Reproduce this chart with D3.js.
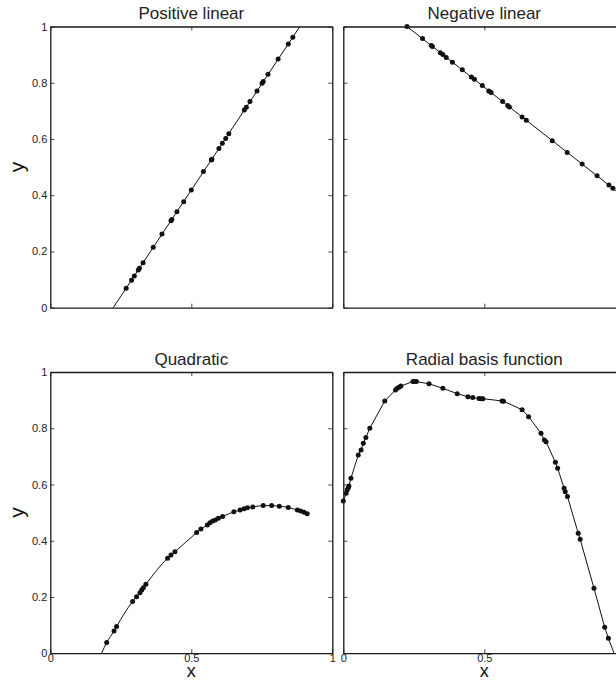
<!DOCTYPE html>
<html>
<head>
<meta charset="utf-8">
<script src="https://cdn.jsdelivr.net/npm/d3@7"></script>
<style>
  html, body { margin: 0; padding: 0; background: #fff; }
  svg { display: block; font-family: "Liberation Sans", Arial, Helvetica, sans-serif; }
</style>
</head>
<body>
<svg id="chart" width="616" height="681"></svg>
<script>
// ---------- DATA ----------
const titles = ["Positive linear", "Negative linear", "Quadratic", "Radial basis function"];
const xTicks = [0, 0.5, 1];
const yTicks = [0, 0.2, 0.4, 0.6, 0.8, 1];
const xTickLabels = ["0", "0.5", "1"];
const yTickLabels = ["0", "0.2", "0.4", "0.6", "0.8", "1"];

// Positive linear
const posX = [0.860,0.844,0.808,0.772,0.755,0.751,0.733,0.708,0.695,0.688,0.633,0.622,0.610,0.598,0.573,0.571,0.543,0.500,0.473,0.449,0.431,0.428,0.396,0.365,0.329,0.316,0.312,0.298,0.288,0.269];
const posY = [0.962,0.938,0.884,0.830,0.804,0.798,0.771,0.733,0.713,0.703,0.619,0.602,0.585,0.566,0.528,0.525,0.484,0.419,0.377,0.341,0.314,0.309,0.262,0.215,0.160,0.140,0.134,0.113,0.098,0.069];
const posLineX = [0.223, 0.885];
const posLineY = [0, 1];

// Negative linear
const negX = [0.226,0.281,0.312,0.316,0.344,0.353,0.365,0.387,0.422,0.454,0.465,0.493,0.516,0.524,0.565,0.583,0.589,0.634,0.649,0.741,0.794,0.847,0.900,0.942,0.956];
const negY = [1.000,0.957,0.932,0.929,0.907,0.900,0.890,0.873,0.846,0.820,0.812,0.790,0.771,0.765,0.733,0.719,0.714,0.678,0.667,0.594,0.552,0.511,0.469,0.436,0.425];
const negLineX = [0.226, 1];
const negLineY = [1, 0.390];

// Quadratic
const quadX = [0.200,0.226,0.235,0.292,0.306,0.318,0.324,0.330,0.339,0.416,0.428,0.442,0.519,0.534,0.557,0.566,0.576,0.585,0.596,0.611,0.651,0.673,0.687,0.699,0.718,0.755,0.785,0.812,0.844,0.876,0.888,0.900,0.911];
const quadY = [0.038,0.079,0.095,0.184,0.201,0.215,0.225,0.233,0.245,0.338,0.349,0.361,0.429,0.442,0.456,0.464,0.470,0.474,0.480,0.486,0.503,0.509,0.514,0.517,0.520,0.525,0.525,0.523,0.518,0.509,0.506,0.501,0.496];
const quadLineX = [0.182].concat(quadX);
const quadLineY = [0].concat(quadY);

// Radial basis function
const rbfX = [0.000,0.010,0.014,0.018,0.020,0.027,0.053,0.063,0.071,0.080,0.094,0.147,0.185,0.191,0.198,0.204,0.247,0.253,0.259,0.304,0.353,0.404,0.442,0.459,0.481,0.489,0.495,0.563,0.568,0.634,0.657,0.701,0.713,0.719,0.752,0.760,0.783,0.787,0.795,0.833,0.840,0.889,0.927,0.940];
const rbfY = [0.541,0.569,0.581,0.589,0.595,0.622,0.705,0.723,0.747,0.767,0.800,0.897,0.936,0.942,0.946,0.950,0.966,0.966,0.966,0.958,0.942,0.923,0.912,0.909,0.906,0.905,0.905,0.897,0.896,0.866,0.841,0.782,0.758,0.752,0.679,0.658,0.587,0.574,0.557,0.427,0.405,0.231,0.092,0.053];
const rbfLineX = rbfX.concat([0.960]);
const rbfLineY = rbfY.concat([0]);

// ---------- LAYOUT ----------
const W = 616;
const svg = d3.select("#chart");
const panelW = 282, panelH = 281.2;
const panels = [
  { left: 50.3,  top: 26.5, title: titles[0], px: posX,  py: posY,  lx: posLineX,  ly: posLineY,  yLab: true,  xLab: false, curve: d3.curveLinear },
  { left: 343.3, top: 26.5, title: titles[1], px: negX,  py: negY,  lx: negLineX,  ly: negLineY,  yLab: false, xLab: false, curve: d3.curveLinear },
  { left: 50.3,  top: 372,  title: titles[2], px: quadX, py: quadY, lx: quadLineX, ly: quadLineY, yLab: true,  xLab: true,  curve: d3.curveMonotoneX },
  { left: 343.3, top: 372,  title: titles[3], px: rbfX,  py: rbfY,  lx: rbfLineX,  ly: rbfLineY,  yLab: false, xLab: true,  curve: d3.curveLinear }
];

const axisColor = "#1a1a1a";
const tickLen = 4;

panels.forEach((p, i) => {
  const x = d3.scaleLinear().domain([0, 1]).range([p.left, p.left + panelW]);
  const y = d3.scaleLinear().domain([0, 1]).range([p.top + panelH, p.top]);
  const g = svg.append("g");

  const clipId = "clip" + i;
  svg.append("clipPath").attr("id", clipId)
    .append("rect").attr("x", p.left).attr("y", p.top).attr("width", panelW).attr("height", panelH);

  // data line
  const lineData = p.lx.map((v, k) => [v, p.ly[k]]);
  g.append("path")
    .attr("clip-path", `url(#${clipId})`)
    .attr("d", d3.line().x(d => x(d[0])).y(d => y(d[1])).curve(p.curve)(lineData))
    .attr("fill", "none").attr("stroke", "#111").attr("stroke-width", 1);

  // dots
  g.append("g").selectAll("circle")
    .data(p.px.map((v, k) => [v, p.py[k]]))
    .join("circle")
    .attr("cx", d => x(d[0])).attr("cy", d => y(d[1]))
    .attr("r", 2.5).attr("fill", "#111");

  // axes (inward ticks, all four sides)
  const bottom = d3.axisBottom(x).tickValues(xTicks).tickSizeInner(-tickLen).tickSizeOuter(0)
    .tickFormat((d, k) => (p.xLab && x(d) < W - 4) ? xTickLabels[k] : "");
  const top = d3.axisTop(x).tickValues(xTicks).tickSizeInner(-tickLen).tickSizeOuter(0).tickFormat("");
  const left = d3.axisLeft(y).tickValues(yTicks).tickSizeInner(-tickLen).tickSizeOuter(0)
    .tickFormat((d, k) => p.yLab ? yTickLabels[k] : "");
  const right = d3.axisRight(y).tickValues(yTicks).tickSizeInner(-tickLen).tickSizeOuter(0).tickFormat("");

  const styleAxis = sel => {
    sel.selectAll("path").attr("stroke", axisColor).attr("stroke-width", 1.3);
    sel.selectAll("line").attr("stroke", axisColor).attr("stroke-width", 0.8);
    sel.selectAll("text").attr("fill", "#222").attr("font-size", 11)
      .attr("font-family", "'Liberation Sans', Arial, Helvetica, sans-serif");
  };

  const gb = g.append("g").attr("transform", `translate(0,${p.top + panelH})`).call(bottom).call(styleAxis);
  gb.selectAll("text").attr("y", 0.5).attr("dy", "0.71em");
  g.append("g").attr("transform", `translate(0,${p.top})`).call(top).call(styleAxis);
  const gl = g.append("g").attr("transform", `translate(${p.left},0)`).call(left).call(styleAxis);
  gl.selectAll("text").attr("x", -3);
  g.append("g").attr("transform", `translate(${p.left + panelW},0)`).call(right).call(styleAxis);

  // title
  g.append("text")
    .attr("x", p.left + panelW / 2).attr("y", p.top - 7.5)
    .attr("text-anchor", "middle").attr("font-size", 17).attr("fill", "#222")
    .text(p.title);

  if (p.yLab) {
    g.append("text")
      .attr("transform", `translate(24,${p.top + panelH / 2}) rotate(-90)`)
      .attr("text-anchor", "middle").attr("font-size", 21).attr("fill", "#111")
      .text("y");
  }
  if (p.xLab) {
    g.append("text")
      .attr("x", p.left + panelW / 2).attr("y", 677)
      .attr("text-anchor", "middle").attr("font-size", 18).attr("fill", "#111")
      .text("x");
  }
});
</script>
</body>
</html>
